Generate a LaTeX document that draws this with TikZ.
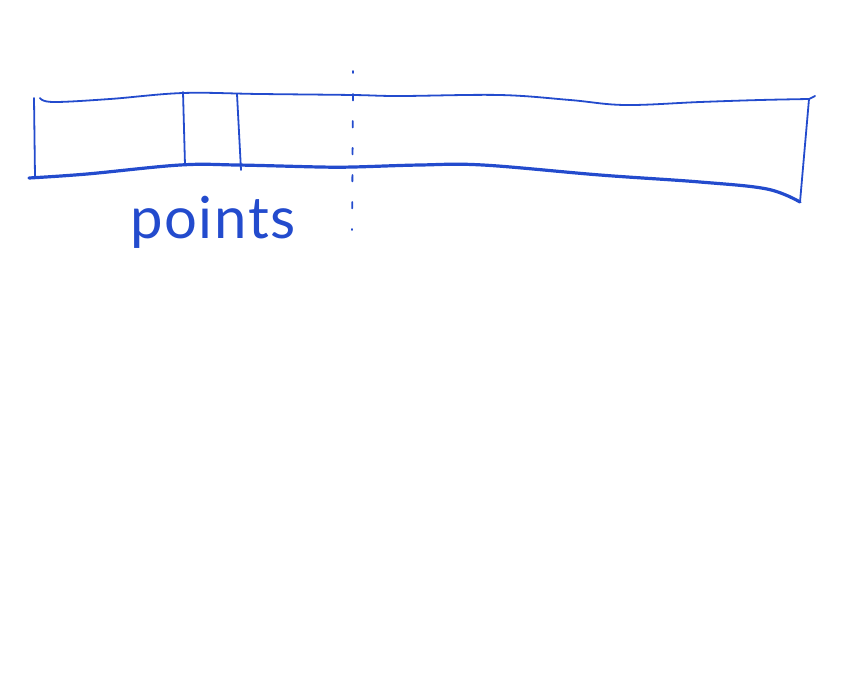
\documentclass[tikz,border=0pt]{standalone}
\usepackage{fontspec}
\newfontfamily\handfont[LetterSpace=3]{Lato}
\definecolor{ink}{RGB}{35,75,205}
\begin{document}
\begin{tikzpicture}[x=0.5pt,y=-0.5pt,
  thin ink/.style={draw=ink,line width=0.9pt,line cap=round,line join=round},
  thick ink/.style={draw=ink,line width=1.6pt,line cap=round,line join=round},
  lbl/.style={text=ink,font=\handfont\fontsize{29}{32}\selectfont,inner sep=0pt}]
\useasboundingbox (0,0) rectangle (860,675);
% top edge
\draw[thin ink] plot[smooth,tension=0.6] coordinates {(40,98) (53,102) (110,99) (183,93) (260,94) (353,95) (400,96) (500,95) (570,100) (625,105) (700,102) (760,100) (809,99)} -- (815,96);
% left edge
\draw[thin ink] (34,98) -- (35,177);
% bottom edge
\draw[thick ink] plot[smooth,tension=0.6] coordinates {(29,178) (87,174) (180,165) (237,165) (320,167) (353,167) (420,165) (483,165) (600,175) (700,182) (767,189) (800,202)};
% right edge
\draw[thin ink] (800,202) -- (809,99);
% interior dividers
\draw[thin ink] (183,92) -- (185,165);
\draw[thin ink] (237,94) -- (241,170);
% dashed line
\draw[thin ink,dash pattern=on 3.2pt off 10.3pt] (353,94) -- (352,230);
\draw[thin ink] (353,71) -- (353,73);
\node[lbl,anchor=base] (points) at (213,238) {points};
\end{tikzpicture}
\end{document}
